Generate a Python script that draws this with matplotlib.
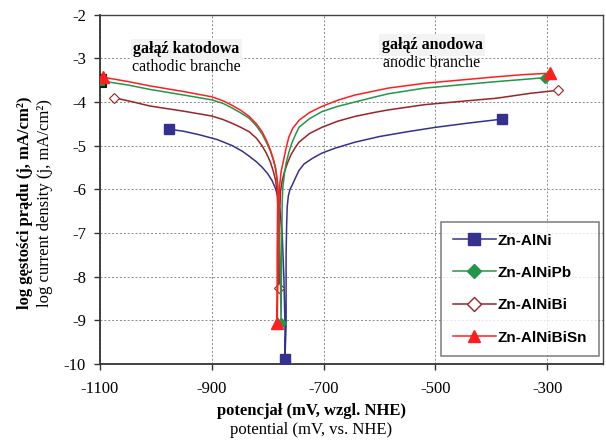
import matplotlib
matplotlib.use("Agg")
import matplotlib.pyplot as plt
from matplotlib.lines import Line2D

# Polarisation curves: potential (mV vs NHE) and log current density (mA/cm2)
# each list runs cathodic start -> corrosion minimum -> anodic end
E_AlNi = [-977, -950, -922, -890, -863, -845, -833, -820, -810, -800, -792, -786,
          -781, -777, -774, -771, -769, -769,
          -767, -767, -766, -765, -763, -760, -756, -750, -744, -735, -720, -703,
          -680, -644, -600, -550, -500, -440, -380]
j_AlNi = [-4.62, -4.67, -4.75, -4.86, -5.00, -5.13, -5.24, -5.37, -5.49, -5.64, -5.80, -5.98,
          -6.20, -6.60, -7.00, -8.00, -9.10, -9.88,
          -9.10, -7.50, -6.80, -6.40, -6.15, -6.00, -5.90, -5.73, -5.57, -5.42, -5.29, -5.17,
          -5.06, -4.92, -4.79, -4.68, -4.58, -4.48, -4.39]

E_AlNiPb = [-1100, -1050, -1011, -950, -900, -880, -863, -848, -833, -820, -810, -802,
            -795, -790, -786, -782, -780, -778, -776,
            -775, -774, -773, -770, -767, -762, -757, -750, -744, -725, -703, -675,
            -644, -610, -584, -519, -450, -389, -340, -303]
j_AlNiPb = [-3.51, -3.61, -3.71, -3.84, -3.95, -4.03, -4.14, -4.25, -4.37, -4.55, -4.73, -4.93,
            -5.13, -5.32, -5.52, -5.85, -6.30, -7.50, -9.05,
            -7.50, -6.30, -5.97, -5.65, -5.40, -5.15, -4.95, -4.74, -4.58, -4.38, -4.22, -4.10,
            -4.00, -3.89, -3.81, -3.68, -3.60, -3.53, -3.48, -3.44]

E_AlNiBi = [-1075, -1040, -1011, -950, -900, -880, -863, -848, -833, -820, -810, -802,
            -795, -790, -786, -783, -781, -780,
            -779, -778, -777, -774, -770, -764, -758, -751, -744, -725, -703, -675,
            -644, -610, -584, -519, -450, -389, -330, -280]
j_AlNiBi = [-3.90, -4.00, -4.09, -4.21, -4.32, -4.40, -4.49, -4.58, -4.68, -4.83, -5.00, -5.18,
            -5.38, -5.58, -5.78, -6.05, -6.60, -8.26,
            -7.20, -6.40, -6.05, -5.80, -5.60, -5.38, -5.20, -5.05, -4.92, -4.72, -4.58, -4.44,
            -4.33, -4.24, -4.18, -4.06, -3.98, -3.91, -3.80, -3.73]

E_AlNiBiSn = [-1095, -1050, -1011, -950, -900, -880, -863, -848, -833, -820, -810, -802,
              -795, -790, -786, -783, -782, -783, -783,
              -781, -780, -779, -776, -771, -766, -762, -755, -744, -725, -703, -675,
              -644, -610, -584, -519, -450, -389, -340, -295]
j_AlNiBiSn = [-3.43, -3.53, -3.63, -3.76, -3.88, -3.97, -4.08, -4.19, -4.33, -4.50, -4.68, -4.88,
              -5.10, -5.30, -5.50, -5.80, -6.20, -7.50, -9.06,
              -7.50, -6.30, -5.97, -5.60, -5.30, -5.00, -4.80, -4.60, -4.42, -4.24, -4.10, -3.96,
              -3.84, -3.75, -3.68, -3.57, -3.49, -3.42, -3.37, -3.34]

labels = ["Zn-AlNi", "Zn-AlNiPb", "Zn-AlNiBi", "Zn-AlNiBiSn"]
x_ticks = [-1100, -900, -700, -500, -300]
y_ticks = [-10, -9, -8, -7, -6, -5, -4, -3, -2]

c_blue = "#34318f"
c_green = "#22964a"
c_brown = "#9a2426"
c_red = "#ff1f1f"

serif = "Liberation Serif"
sans = "Liberation Sans"

fig = plt.figure(figsize=(6.06, 4.41), dpi=100)
ax = fig.add_axes([0.165, 0.1746, 0.830, 0.792])


def bottom_index(vals):
    return vals.index(min(vals))


# Zn-AlNi
ax.plot(E_AlNi, j_AlNi, color=c_blue, lw=1.1, marker="s", ms=7,
        markevery=[0, bottom_index(j_AlNi), len(E_AlNi) - 1],
        mfc=c_blue, mec=c_blue, zorder=3)
# Zn-AlNiBi
ax.plot(E_AlNiBi, j_AlNiBi, color=c_brown, lw=1.1, marker="D", ms=5.5,
        markevery=[0, bottom_index(j_AlNiBi), len(E_AlNiBi) - 1],
        mfc="white", mec=c_brown, mew=0.8, zorder=4)
# Zn-AlNiPb
ax.plot(E_AlNiPb, j_AlNiPb, color=c_green, lw=1.1, marker="D", ms=5.5,
        markevery=[bottom_index(j_AlNiPb), len(E_AlNiPb) - 1],
        mfc=c_green, mec=c_green, zorder=5)
ax.plot(E_AlNiPb[0], j_AlNiPb[0], marker="s", ms=8, mfc=c_green, mec="#1a1a1a",
        mew=1.5, ls="none", zorder=6)
# Zn-AlNiBiSn
ax.plot(E_AlNiBiSn, j_AlNiBiSn, color=c_red, lw=1.1, marker="^", ms=8,
        markevery=[0, bottom_index(j_AlNiBiSn), len(E_AlNiBiSn) - 1],
        mfc=c_red, mec=c_red, zorder=6)

ax.set_xlim(-1100, -200)
ax.set_ylim(-10, -2)
ax.set_xticks(x_ticks)
ax.set_yticks(y_ticks)
ax.set_xticklabels([str(v) for v in x_ticks], fontfamily=serif, fontsize=12)
ax.set_yticklabels([str(v) for v in y_ticks], fontfamily=serif, fontsize=12)
ax.tick_params(axis="both", direction="out", length=4, width=1.0, color="#333333", pad=6)
ax.tick_params(axis="x", pad=8)

ax.grid(True, color="#8a8a8a", lw=0.7, ls=(0, (2, 2)))
ax.set_axisbelow(True)
for side in ["left", "bottom"]:
    ax.spines[side].set_color("#333333")
    ax.spines[side].set_linewidth(1.3)
for side in ["top", "right"]:
    ax.spines[side].set_color("#444444")
    ax.spines[side].set_linewidth(1.0)

handles = [
    Line2D([], [], color=c_blue, lw=1.1, marker="s", ms=8, mfc=c_blue, mec=c_blue),
    Line2D([], [], color=c_green, lw=1.1, marker="D", ms=7, mfc=c_green, mec=c_green),
    Line2D([], [], color=c_brown, lw=1.1, marker="D", ms=7, mfc="white", mec=c_brown, mew=1.0),
    Line2D([], [], color=c_red, lw=1.1, marker="^", ms=9, mfc=c_red, mec=c_red),
]
leg = ax.legend(handles, labels, loc="lower right", bbox_to_anchor=(0.992, 0.023),
                prop={"family": sans, "weight": "bold", "size": 11},
                frameon=True, fancybox=False, edgecolor="#666666",
                handlelength=2.8, handletextpad=0.15, labelspacing=1.2,
                borderpad=0.75, borderaxespad=0.0)
leg.get_frame().set_linewidth(1.2)
leg.get_frame().set_facecolor("white")

# branch annotations
box = dict(facecolor="#f3f3f3", edgecolor="none", pad=2)
ax.text(-945, -2.79, "gałąź katodowa", ha="center", va="center",
        fontfamily=serif, fontweight="bold", fontsize=11.5, bbox=box, zorder=7)
ax.text(-945, -3.19, "cathodic branche", ha="center", va="center",
        fontfamily=serif, fontsize=11.5, zorder=7)
ax.text(-506, -2.69, "gałąź anodowa", ha="center", va="center",
        fontfamily=serif, fontweight="bold", fontsize=11.5, bbox=box, zorder=7)
ax.text(-506, -3.11, "anodic branche", ha="center", va="center",
        fontfamily=serif, fontsize=11.5, zorder=7)

# axis titles (Polish bold, English regular)
fig.text(25 / 606, 1 - 203 / 441, "log gęstości prądu (j, mA/cm²)", rotation=90,
         ha="center", va="center", fontfamily=serif, fontweight="bold", fontsize=12)
fig.text(45 / 606, 1 - 203 / 441, "log current density (j, mA/cm²)", rotation=90,
         ha="center", va="center", fontfamily=serif, fontsize=12)
fig.text(311 / 606, 1 - 411 / 441, "potencjał (mV, wzgl. NHE)", ha="center", va="center",
         fontfamily=serif, fontweight="bold", fontsize=12)
fig.text(311 / 606, 1 - 430 / 441, "potential (mV, vs. NHE)", ha="center", va="center",
         fontfamily=serif, fontsize=12)

fig.savefig("out.png", dpi=100)
